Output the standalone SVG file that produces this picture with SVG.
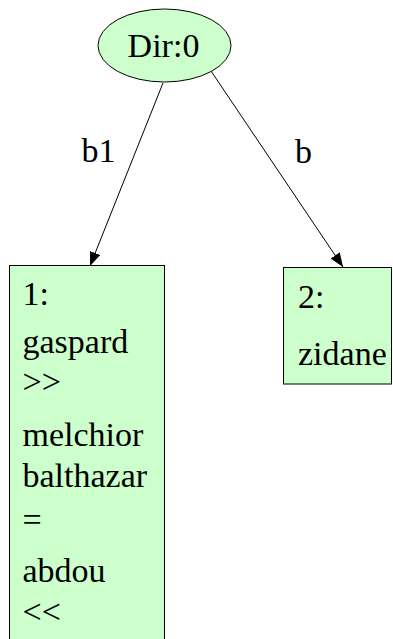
<svg xmlns="http://www.w3.org/2000/svg" width="393" height="639" viewBox="0 0 393 639">
<style>
.node{fill:#ccffcc;stroke:#000;stroke-width:1}
.t{font-family:'Liberation Serif','DejaVu Serif',serif;font-size:34px;fill:#000}
.e{fill:none;stroke:#000;stroke-width:1}
</style>
<defs>
<marker id="ah" markerUnits="userSpaceOnUse" markerWidth="16" markerHeight="12" refX="14" refY="5.5" orient="auto">
<path d="M0,0 L14,5.5 L0,11 Z" fill="#000"/>
</marker>
</defs>
<rect width="393" height="639" fill="#fff"/>
<g id="edges">
<path class="e" d="M163,83 L90,266" marker-end="url(#ah)"/>
<path class="e" d="M211,71 L343,267" marker-end="url(#ah)"/>
<text class="t" x="81.5" y="162">b1</text>
<text class="t" x="295" y="163">b</text>
</g>
<g id="dir0">
<ellipse class="node" cx="164.5" cy="45.5" rx="66.5" ry="36.5"/>
<text class="t" x="163.5" y="57" text-anchor="middle">Dir:0</text>
</g>
<g id="n1">
<rect class="node" x="9.5" y="265.5" width="155" height="400"/>
<text class="t" x="22.5" y="305">1:</text>
<text class="t" x="22.5" y="352.5">gaspard</text>
<text class="t" x="22.5" y="393">&gt;&gt;</text>
<text class="t" x="22.5" y="446">melchior</text>
<text class="t" x="22.5" y="487">balthazar</text>
<text class="t" x="22.5" y="531">=</text>
<text class="t" x="22.5" y="581.5">abdou</text>
<text class="t" x="22.5" y="623">&lt;&lt;</text>
</g>
<g id="n2">
<rect class="node" x="283.5" y="267.5" width="108" height="116.5"/>
<text class="t" x="298" y="308">2:</text>
<text class="t" x="298" y="365">zidane</text>
</g>
</svg>
